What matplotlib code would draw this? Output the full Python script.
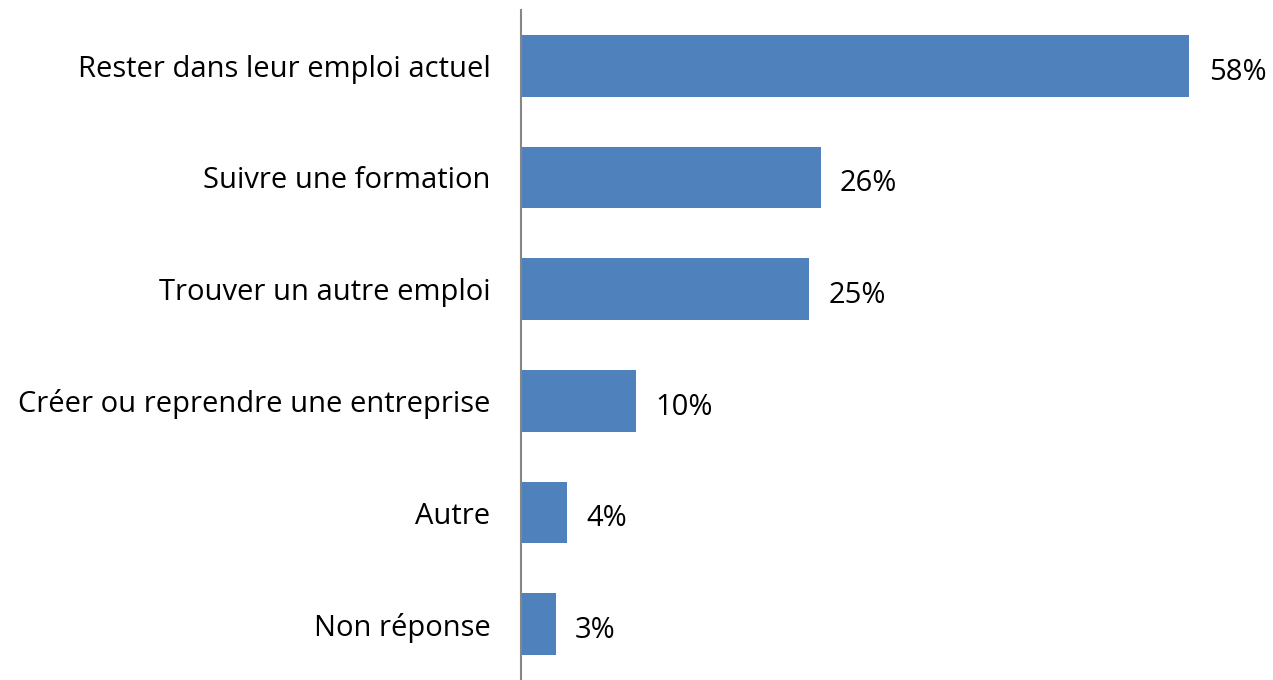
import matplotlib
matplotlib.use("Agg")
import matplotlib.pyplot as plt

categories = ["Rester dans leur emploi actuel", "Suivre une formation", "Trouver un autre emploi",
              "Créer ou reprendre une entreprise", "Autre", "Non réponse"]
values = [58, 26, 25, 10, 4, 3]
value_labels = ["58%", "26%", "25%", "10%", "4%", "3%"]

plt.rcParams['font.family'] = ['Open Sans', 'DejaVu Sans']

fig = plt.figure(figsize=(12.73, 6.8), dpi=100)
ax = fig.add_axes([521/1273, 0.0, 752/1273, 670/680])

y = list(range(len(categories)))
ax.barh(y, values, height=0.55, color="#4F81BD")
ax.set_ylim(len(categories) - 0.5, -0.5)
ax.set_xlim(0, 752/11.52)
ax.set_yticks(y)
ax.set_yticklabels(categories, fontsize=21, va="center_baseline")
ax.tick_params(axis='y', length=0, pad=22)
ax.set_xticks([])
for s in ["top", "right", "bottom"]:
    ax.spines[s].set_visible(False)
ax.spines["left"].set_color("#868686")
ax.spines["left"].set_linewidth(1.5)

for yi, v, lab in zip(y, values, value_labels):
    ax.annotate(lab, (v, yi), xytext=(14, -2), textcoords="offset points",
                va="center_baseline", ha="left", fontsize=21)

fig.savefig("out.png", dpi=100)
